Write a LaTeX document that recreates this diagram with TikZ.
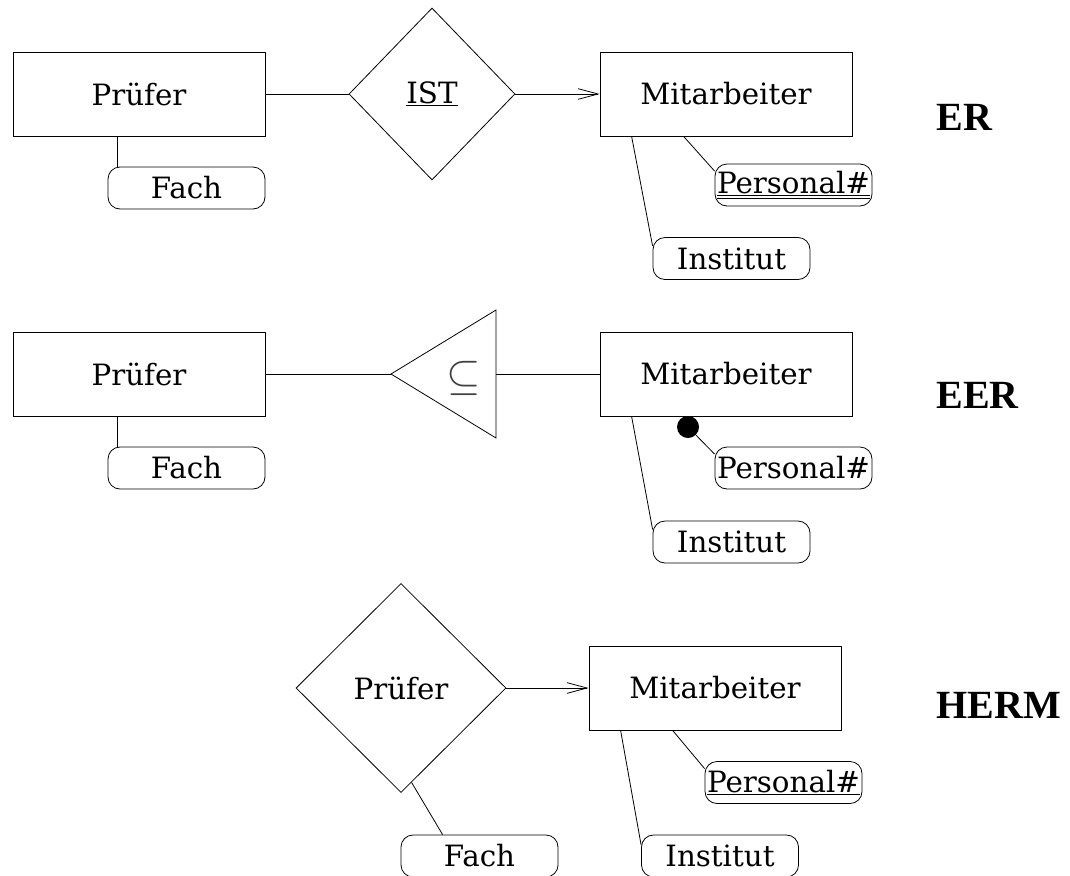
\documentclass[tikz,border=0pt]{standalone}
\usepackage{fontspec}
\setmainfont{DejaVu Serif}
\newfontfamily\tagfont{Liberation Serif}
\usetikzlibrary{shapes.geometric,arrows.meta,calc}

\begin{document}
\begin{tikzpicture}[x=0.75pt,y=-0.75pt,line width=0.6pt,
  font=\fontsize{22}{26}\selectfont,
  entity/.style={draw,rectangle,minimum width=189pt,minimum height=63pt,inner sep=0pt},
  attr/.style={draw,rectangle,rounded corners=9pt,minimum width=117.75pt,minimum height=31.5pt,inner sep=0pt},
  rel/.style={draw,diamond,inner sep=0pt},
  model/.style={anchor=west,inner sep=0pt,font=\tagfont\fontsize{30}{30}\selectfont\bfseries},
  isa/.style={-{Straight Barb[length=15pt,width=8pt]}}]
\useasboundingbox (0,0) rectangle (1070,875);

% ER
\node[entity] (pruefA) at (139,94) {Prüfer};
\node[attr] (fachA) at (186.5,188) {Fach};
\node[rel,minimum width=124.5pt,minimum height=129pt] (ist) at (432,94) {\underline{IST}};
\node[entity] (mitA) at (726,94) {Mitarbeiter};
\node[attr] (persA) at (793.5,185) {\underline{\underline{Personal\#}}};
\node[attr] (instA) at (731.5,258.5) {Institut};
\draw (pruefA) -- (ist);
\draw[isa] (ist) -- (mitA);
\draw ($(pruefA.south west)+(105,0)$) -- ($(fachA.north west)+(10,0)$);
\draw ($(mitA.south west)+(84,0)$) -- (persA.170);
\draw ($(mitA.south west)+(32,0)$) -- (instA.171);
\node[model] (erTag) at (936,117) {ER};

% EER
\node[entity] (pruefB) at (139,374) {Prüfer};
\node[attr] (fachB) at (186.5,468) {Fach};
\coordinate (isaTip) at (391,374);
\coordinate (isaTop) at (496,310);
\coordinate (isaBot) at (496,438);
\coordinate (isaBase) at (496,374);
\draw (isaTip) -- (isaTop) -- (isaBot) -- cycle;
\node[text=black!75,scale=1.6] (isaSym) at (464,378) {$\subseteq$};
\node[entity] (mitB) at (726,374) {Mitarbeiter};
\node[circle,fill,inner sep=0pt,minimum size=16.5pt] (dotB) at (688,427) {};
\node[attr] (persB) at (793.5,468) {Personal\#};
\node[attr] (instB) at (731.5,542) {Institut};
\draw (pruefB) -- (isaTip);
\draw (isaBase) -- (mitB);
\draw ($(pruefB.south west)+(105,0)$) -- ($(fachB.north west)+(10,0)$);
\draw (dotB) -- (persB.170);
\draw ($(mitB.south west)+(32,0)$) -- (instB.171);
\node[model] (eerTag) at (936,395) {EER};

% HERM
\node[rel,minimum width=157.5pt,minimum height=156.75pt] (pruefC) at (401,688) {Prüfer};
\node[entity] (mitC) at (715,688) {Mitarbeiter};
\node[attr] (persC) at (783.5,782.5) {\underline{Personal\#}};
\node[attr] (fachC) at (479.5,856) {Fach};
\node[attr] (instC) at (720,856) {Institut};
\draw[isa] (pruefC) -- (mitC);
\draw ($(pruefC.south)!0.1!(pruefC.east)$) -- ($(fachC.north west)+(42,0)$);
\draw ($(mitC.south west)+(84,0)$) -- (persC.170);
\draw ($(mitC.south west)+(32,0)$) -- (instC.172);
\node[model] (hermTag) at (936,705) {HERM};
\end{tikzpicture}
\end{document}
